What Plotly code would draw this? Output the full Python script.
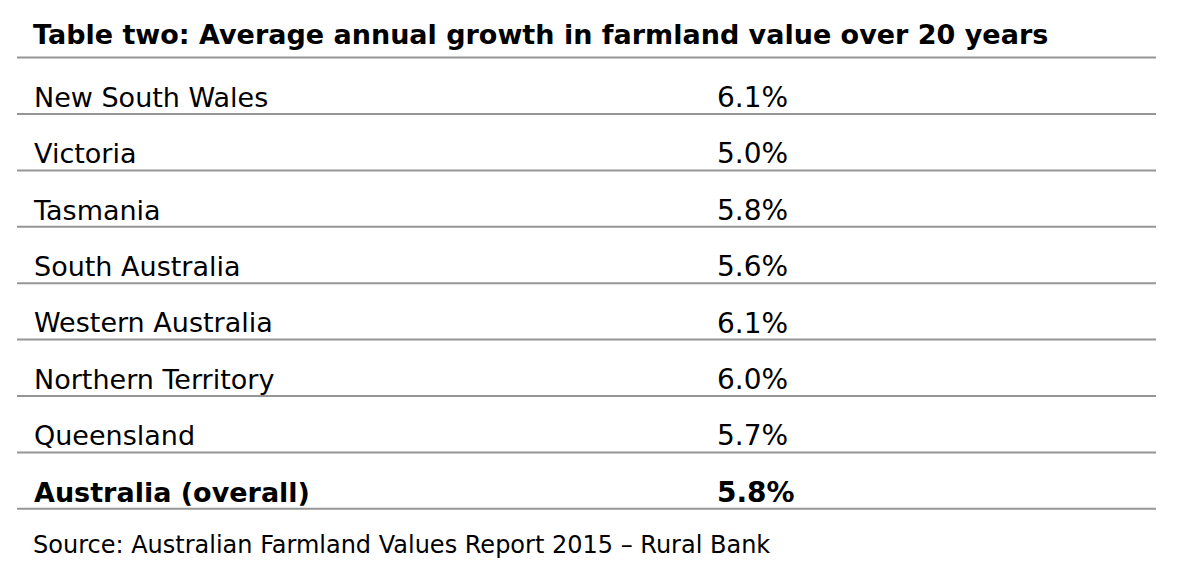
import plotly.graph_objects as go

title = "Table two: Average annual growth in farmland value over 20 years"
source = "Source: Australian Farmland Values Report 2015 \u2013 Rural Bank"

regions = ["New South Wales", "Victoria", "Tasmania", "South Australia",
           "Western Australia", "Northern Territory", "Queensland",
           "Australia (overall)"]
growth = [6.1, 5.0, 5.8, 5.6, 6.1, 6.0, 5.7, 5.8]
bold_rows = ["Australia (overall)"]

# layout in screen pixels (page body has an 8px margin)
W, H = 1200, 586
off = 8
row_h = 56.4
first_row_px = 100.0
rule_gap = 14  # px from text centre down to the rule
# y data unit = one table row; row 0 centred at first_row_px
y_top = (off - first_row_px) / row_h
y_range = [y_top + H / row_h, y_top]

label_x = 34
value_x = 717
line_x0, line_x1 = 17, 1156

rows = list(range(len(regions)))
label_text = [f"<b>{r}</b>" if r in bold_rows else r for r in regions]
value_text = [f"<b>{v:.1f}%</b>" if r in bold_rows else f"{v:.1f}%"
              for r, v in zip(regions, growth)]

fam = "DejaVu Sans"
fig = go.Figure()
fig.add_trace(go.Scatter(x=[label_x] * len(rows), y=rows, mode="text",
                         text=label_text, textposition="middle right",
                         textfont=dict(family=fam, size=27, color="#000000"),
                         hoverinfo="skip"))
fig.add_trace(go.Scatter(x=[value_x] * len(rows), y=rows, mode="text",
                         text=value_text, textposition="middle right",
                         textfont=dict(family=fam, size=28, color="#000000"),
                         hoverinfo="skip"))

# horizontal rules under title and each row
for i in range(-1, len(rows)):
    yl = i + rule_gap / row_h
    fig.add_shape(type="line", x0=line_x0, x1=line_x1, y0=yl, y1=yl,
                  xref="x", yref="y", line=dict(color="#969696", width=2))

fig.add_annotation(x=label_x - 3, y=(34 - first_row_px) / row_h, xref="x", yref="y",
                   text=f"<b>{title}</b>", showarrow=False, xanchor="left",
                   yanchor="middle", font=dict(family=fam, size=27, color="#000000"))
fig.add_annotation(x=label_x - 3, y=(545 - first_row_px) / row_h, xref="x", yref="y",
                   text=source, showarrow=False, xanchor="left",
                   yanchor="middle", font=dict(family=fam, size=24, color="#000000"))

fig.update_xaxes(range=[off, W + off], visible=False, fixedrange=True)
fig.update_yaxes(range=y_range, visible=False, fixedrange=True)
fig.update_layout(
    width=W, height=H,
    margin=dict(l=0, r=0, t=0, b=0),
    paper_bgcolor="white", plot_bgcolor="white",
    showlegend=False,
)

fig.write_html("out.html")
